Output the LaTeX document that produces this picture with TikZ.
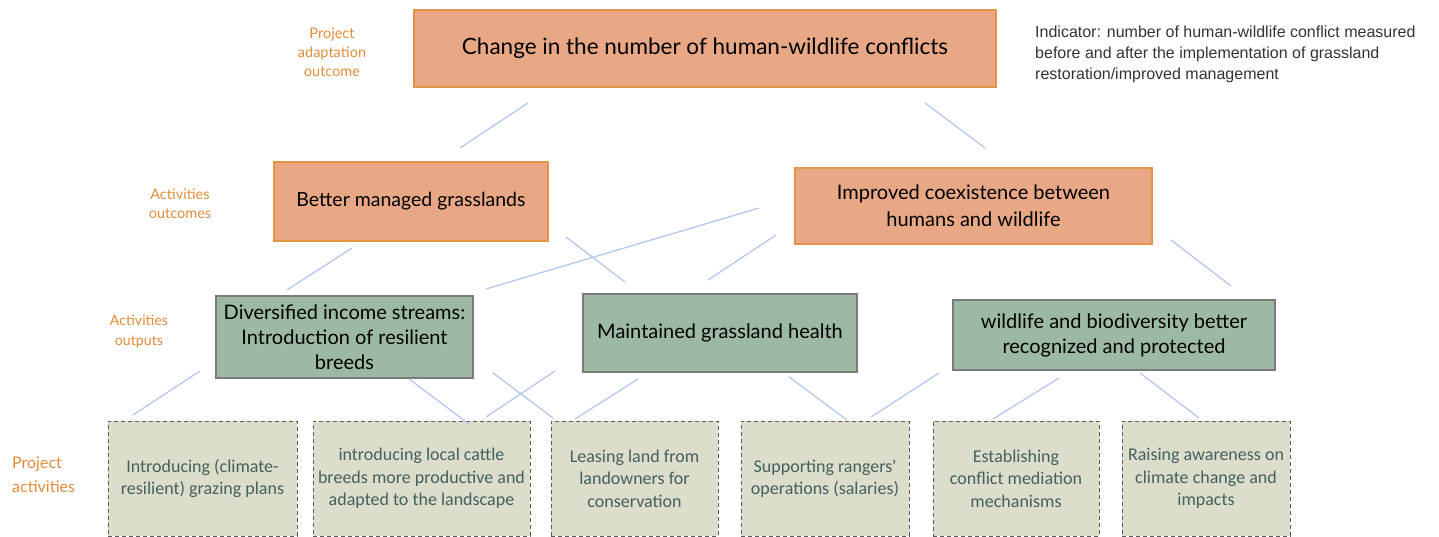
\documentclass[tikz,border=0pt]{standalone}
\usepackage{fontspec}
\setmainfont{Lato}
\newfontfamily\actfont{Carlito}
\newfontfamily\notefont{Liberation Sans}

\definecolor{outfill}{HTML}{E8A886}
\definecolor{outedge}{HTML}{E39546}
\definecolor{putfill}{HTML}{9CB9A4}
\definecolor{putedge}{HTML}{7A7A7A}
\definecolor{actfill}{HTML}{DCDDCB}
\definecolor{actedge}{HTML}{5A5A5A}
\definecolor{acttext}{HTML}{44605F}
\definecolor{linkblue}{HTML}{B4C8EE}
\definecolor{tierorange}{HTML}{E38B3A}
\definecolor{notegray}{HTML}{333333}

\tikzset{
  outcomebox/.style={draw=outedge, line width=1.2pt, fill=outfill, inner sep=0pt,
    align=center, text=black},
  outputbox/.style={draw=putedge, line width=1.1pt, fill=putfill, inner sep=0pt,
    align=center, text=black, font=\fontsize{20}{25}\selectfont},
  activitybox/.style={draw=actedge, line width=1pt, dash pattern=on 4pt off 3pt,
    fill=actfill, inner sep=0pt, align=center, text=acttext,
    minimum height=115pt, font=\actfont\fontsize{18}{22.5}\selectfont},
  tier/.style={text=tierorange, align=center, inner sep=0pt,
    font=\fontsize{14.5}{19}\selectfont},
  link/.style={draw=linkblue, line width=1.3pt}
}

\begin{document}
\begin{tikzpicture}[x=1pt,y=-1pt]
\useasboundingbox (0,0) rectangle (1439,537);

% tier labels
\node[tier] (lab1) at (332,52) {Project\\adaptation\\outcome};
\node[tier] (lab2) at (180,203.5) {Activities\\outcomes};
\node[tier, font=\fontsize{14.2}{20}\selectfont] (lab3) at (139,332) {Activities\\outputs};
\node[tier, anchor=west, align=left, font=\fontsize{16}{24}\selectfont] (lab4) at (12,475) {Project\\activities};

% adaptation outcome
\node[outcomebox, minimum width=582pt, minimum height=77pt,
  font=\fontsize{22.5}{26}\selectfont] (top) at (705,48.5)
  {Change in the number of human-wildlife conflicts};
\node[anchor=west, align=left, inner sep=0pt, text=notegray,
  font=\notefont\fontsize{16}{21}\selectfont] (note) at (1035,54)
  {Indicator: number of human-wildlife conflict measured\\before and after the implementation of grassland\\restoration/improved management};

% activity outcomes
\node[outcomebox, minimum width=274pt, minimum height=79pt,
  font=\fontsize{19.5}{26}\selectfont] (better) at (411,201.5)
  {Better managed grasslands};
\node[outcomebox, minimum width=357pt, minimum height=76pt,
  font=\fontsize{20}{27}\selectfont] (coexist) at (973.5,206)
  {Improved coexistence between\\humans and wildlife};

% activity outputs
\node[outputbox, minimum width=257pt, minimum height=82pt] (income) at (344.5,337)
  {Diversified income streams:\\Introduction of resilient\\breeds};
\node[outputbox, minimum width=274pt, minimum height=78pt] (health) at (720,333)
  {Maintained grassland health};
\node[outputbox, minimum width=322pt, minimum height=70pt] (wildlife) at (1114,335)
  {wildlife and biodiversity better\\recognized and protected};

% project activities
\node[activitybox, minimum width=189pt] (act1) at (202.5,478.5)
  {Introducing (climate-\\resilient) grazing plans};
\node[activitybox, minimum width=217pt] (act2) at (421.5,478.5)
  {introducing local cattle\\breeds more productive and\\adapted to the landscape};
\node[activitybox, minimum width=167pt] (act3) at (634.5,478.5)
  {Leasing land from\\landowners for\\conservation};
\node[activitybox, minimum width=168pt] (act4) at (825,478.5)
  {Supporting rangers'\\operations (salaries)};
\node[activitybox, minimum width=166pt] (act5) at (1016,478.5)
  {Establishing\\conflict mediation\\mechanisms};
\node[activitybox, minimum width=168pt] (act6) at (1206,478.5)
  {Raising awareness on\\climate change and\\impacts};

% connector ends
\coordinate (top-a) at (528,103);   \coordinate (better-a) at (460,148);
\coordinate (top-b) at (925,103);   \coordinate (coexist-a) at (985,148);
\coordinate (better-b) at (352,248); \coordinate (income-a) at (287,290);
\coordinate (better-c) at (566,237); \coordinate (health-a) at (625,282);
\coordinate (coexist-b) at (759,208); \coordinate (income-b) at (486,289);
\coordinate (coexist-c) at (776,235); \coordinate (health-b) at (708,280);
\coordinate (coexist-d) at (1171,240); \coordinate (wildlife-a) at (1231,286);
\coordinate (income-c) at (200,371); \coordinate (act1-a) at (133,415);
\coordinate (income-d) at (409,379); \coordinate (act2-a) at (469,424);
\coordinate (income-e) at (493,373); \coordinate (act3-a) at (553,418);
\coordinate (health-c) at (555,371); \coordinate (act2-b) at (486,417);
\coordinate (health-d) at (638,379); \coordinate (act3-b) at (575,419);
\coordinate (health-e) at (789,377); \coordinate (act4-a) at (847,420);
\coordinate (wildlife-b) at (939,373); \coordinate (act4-b) at (871,417);
\coordinate (wildlife-c) at (1059,378); \coordinate (act5-a) at (993,419);
\coordinate (wildlife-d) at (1140,373); \coordinate (act6-a) at (1199,418);

% connectors
\draw[link] (top-a) -- (better-a);
\draw[link] (top-b) -- (coexist-a);
\draw[link] (better-b) -- (income-a);
\draw[link] (better-c) -- (health-a);
\draw[link] (coexist-b) -- (income-b);
\draw[link] (coexist-c) -- (health-b);
\draw[link] (coexist-d) -- (wildlife-a);
\draw[link] (income-c) -- (act1-a);
\draw[link] (income-d) -- (act2-a);
\draw[link] (income-e) -- (act3-a);
\draw[link] (health-c) -- (act2-b);
\draw[link] (health-d) -- (act3-b);
\draw[link] (health-e) -- (act4-a);
\draw[link] (wildlife-b) -- (act4-b);
\draw[link] (wildlife-c) -- (act5-a);
\draw[link] (wildlife-d) -- (act6-a);
\end{tikzpicture}
\end{document}
